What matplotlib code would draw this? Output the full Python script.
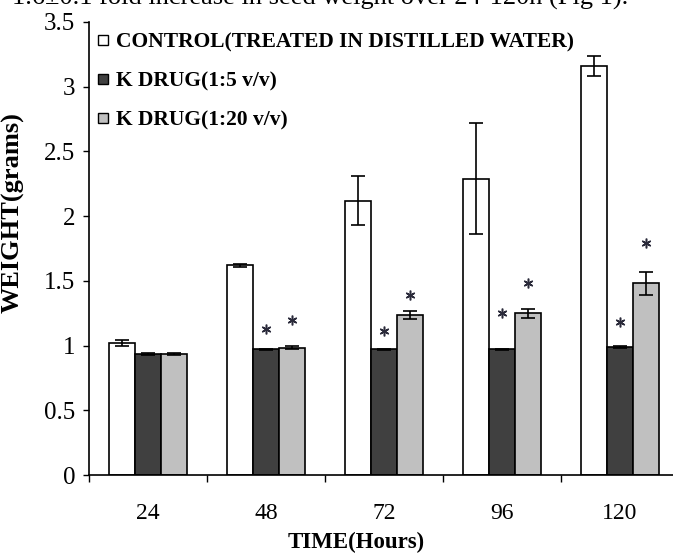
import numpy as np
import matplotlib
matplotlib.use('Agg')
import matplotlib.pyplot as plt
from matplotlib.lines import Line2D
from matplotlib.ticker import FormatStrFormatter

plt.rcParams['font.family'] = ['Liberation Serif', 'DejaVu Serif']

# data
hours = ['24', '48', '72', '96', '120']
control = [1.02, 1.62, 2.12, 2.29, 3.16]
control_err = [0.02, 0.01, 0.19, 0.43, 0.08]
kdrug5 = [0.935, 0.97, 0.97, 0.97, 0.99]
kdrug5_err = [0.005, 0.005, 0.005, 0.004, 0.005]
kdrug20 = [0.935, 0.985, 1.235, 1.25, 1.48]
kdrug20_err = [0.005, 0.008, 0.03, 0.035, 0.09]
# heights of the significance stars (None = no star)
star5 = [None, 1.13, 1.11, 1.25, 1.18]
star20 = [None, 1.20, 1.39, 1.48, 1.79]
labels = ['CONTROL(TREATED IN DISTILLED WATER)', 'K DRUG(1:5 v/v)', 'K DRUG(1:20 v/v)']
colors = ['white', '#404040', '#c0c0c0']

W, H = 673, 554
fig = plt.figure(figsize=(W / 100, H / 100), dpi=100)
ax = fig.add_axes([89 / W, 1 - 475 / H, (679 - 89) / W, (475 - 22) / H])

x = np.arange(len(hours))
bw = 0.223
series = [(control, control_err), (kdrug5, kdrug5_err), (kdrug20, kdrug20_err)]
for i, (vals, errs) in enumerate(series):
    ax.bar(x + (i - 1) * bw, vals, bw, yerr=errs, color=colors[i], edgecolor='black',
           linewidth=1.2, capsize=5, error_kw=dict(elinewidth=1.2, capthick=1.2, ecolor='black'),
           zorder=2)

for stars, off in [(star5, 0), (star20, 1)]:
    for i, s in enumerate(stars):
        if s is not None:
            ax.plot(x[i] + off * bw, s, marker=(6, 2, 0), markersize=7, mew=1.1,
                    color='#2a2a3a', zorder=3)

ax.set_xlim(-0.5, len(hours) - 0.5)
ax.set_ylim(0, 3.5)
ax.set_yticks(np.arange(0, 3.51, 0.5))
ax.yaxis.set_major_formatter(FormatStrFormatter('%g'))
ax.tick_params(axis='y', direction='out', length=4.5, width=1, pad=5.5, labelsize=18)
ax.set_xticks(x)
ax.set_xticklabels(hours)
ax.set_xticks(np.arange(-0.5, len(hours), 1), minor=True)
ax.tick_params(axis='x', which='major', length=0, pad=20, labelsize=17)
ax.tick_params(axis='x', which='minor', direction='out', length=5, width=1)

for sp in ['top', 'right']:
    ax.spines[sp].set_visible(False)
for sp in ['left', 'bottom']:
    ax.spines[sp].set_linewidth(1.2)

ax.set_ylabel('WEIGHT(grams)', fontsize=19, fontweight='bold')
ax.yaxis.set_label_coords((25 - 89) / (679 - 89), (475 - 213) / (475 - 22))
ax.set_xlabel('TIME(Hours)', fontsize=16.5, fontweight='bold', va='bottom')
ax.xaxis.set_label_coords((356 - 89) / (679 - 89), -(553.5 - 475) / (475 - 22))

handles = [Line2D([], [], ls='none', marker='s', markersize=6.5, mfc=c, mec='black', mew=1)
           for c in colors]
fig.legend(handles, labels, loc='upper left', bbox_to_anchor=(98 / W, 1 - 32 / H),
           frameon=False, borderpad=0, borderaxespad=0, handlelength=0.5,
           handletextpad=0.35, labelspacing=0.9,
           prop=dict(family='Liberation Serif', weight='bold', size=15.5))

fig.text(12 / W, 1 - 5 / H, '1.6\u00b10.1 fold increase in seed weight over 24-120h (Fig 1).',
         fontsize=19, va='baseline', ha='left')

fig.savefig('out.png', dpi=100)
